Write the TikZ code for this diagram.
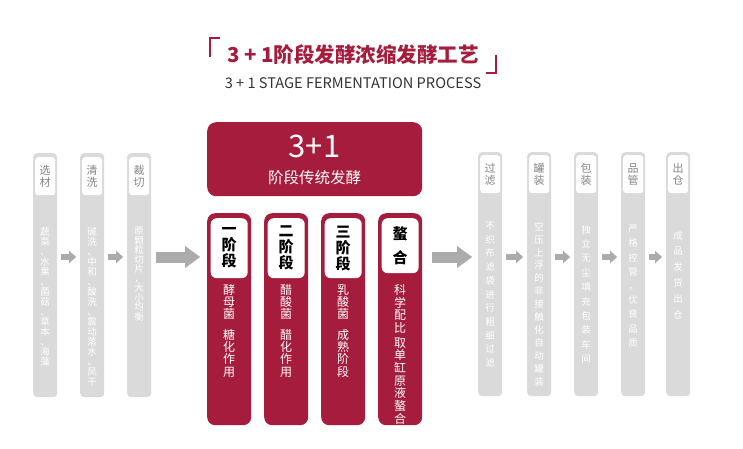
\documentclass[tikz,border=0pt]{standalone}
\usepackage{fontspec}
\setmainfont{Noto Sans CJK SC}
\usetikzlibrary{arrows.meta}

\definecolor{wine}{HTML}{A61C3C}
\definecolor{colgrey}{HTML}{DADADA}
\definecolor{arrowgrey}{HTML}{ABABAB}
\definecolor{labelgrey}{HTML}{858585}
\definecolor{subgrey}{HTML}{333333}

\begin{document}
\begin{tikzpicture}[
    x=1pt, y=-1pt,
    >=Stealth,
    stepcol/.style={fill=colgrey, rounded corners=4pt, inner sep=0pt,
        minimum width=24pt, minimum height=244pt, anchor=north west},
    collabel/.style={fill=white, rounded corners=3pt, inner sep=0pt,
        minimum width=20pt, minimum height=38pt, anchor=north, align=center,
        text=labelgrey, font=\fontsize{11}{12}\selectfont},
    coltext/.style={text=white, align=center, inner sep=0pt, anchor=north,
        font=\fontsize{9.5}{#1}\selectfont},
    stagebox/.style={fill=wine, rounded corners=8pt, inner sep=0pt,
        minimum width=44pt, minimum height=212pt, anchor=north west},
    stagelabel/.style={fill=white, rounded corners=6pt, inner sep=0pt,
        minimum width=37pt, minimum height=#1, anchor=north, align=center,
        font=\fontsize{15}{16}\selectfont\bfseries},
    stagetext/.style={text=white, align=center, inner sep=0pt, anchor=north,
        font=\fontsize{12}{#1}\selectfont},
    smallarrow/.style={draw=arrowgrey, line width=6.5pt,
        -{Triangle[length=7pt, width=12.5pt, line width=0.1pt]},
        shorten <=4pt, shorten >=4pt},
    bigarrow/.style={draw=arrowgrey, line width=11pt,
        -{Triangle[length=15pt, width=22pt, line width=0.1pt]}}
]
    \useasboundingbox (0,0) rectangle (743,448);

    % Title
    \node[text=wine, font=\fontsize{20.5}{24}\selectfont\bfseries] (title)
        at (353,55) {3 + 1阶段发酵浓缩发酵工艺};
    \node[text=subgrey, font=\fontsize{14.6}{16}\selectfont] (subtitle)
        at (353,83) {3 + 1 STAGE FERMENTATION PROCESS};
    \draw[wine, line width=1.2pt] (220,38) -- (210,38) -- (210,57);
    \draw[wine, line width=1.2pt] (486,73) -- (496,73) -- (496,55);

    % Left process columns
    \node[stepcol] (select) at (33,153) {};
    \node[stepcol] (wash) at (80,153) {};
    \node[stepcol] (cut) at (127,153) {};
    \node[collabel] at ([yshift=-4pt]select.north) {选\\材};
    \node[collabel] at ([yshift=-4pt]wash.north) {清\\洗};
    \node[collabel] at ([yshift=-4pt]cut.north) {裁\\切};
    \node[coltext=10] at (45,227)
        {蔬\\菜\\、\\水\\果\\、\\菌\\菇\\、\\草\\本\\、\\海\\藻};
    \node[coltext=10] at (92,227)
        {碱\\洗\\、\\中\\和\\、\\酸\\洗\\、\\震\\动\\落\\水\\、\\风\\干};
    \node[coltext=9.5] at (139,227)
        {原\\颗\\粒\\切\\片\\，\\大\\小\\均\\衡};

    % 3+1 stages
    \node[fill=wine, rounded corners=9pt, inner sep=0pt, minimum width=215pt,
        minimum height=74pt, anchor=north west] (trad) at (207,122) {};
    \node[text=white, font=\fontsize{31}{32}\selectfont] (tradnum)
        at (314.5,146) {3+1};
    \node[text=white, font=\fontsize{15.5}{17}\selectfont] (tradname)
        at (314.5,178) {阶段传统发酵};

    \node[stagebox] (stageone) at (207,213) {};
    \node[stagebox] (stagetwo) at (264,213) {};
    \node[stagebox] (stagethree) at (321,213) {};
    \node[stagebox] (chelate) at (378,213) {};
    \node[stagelabel=60pt] at ([yshift=-5pt]stageone.north) {一\\阶\\段};
    \node[stagelabel=60pt] at ([yshift=-5pt]stagetwo.north) {二\\阶\\段};
    \node[stagelabel=60pt] at ([yshift=-5pt]stagethree.north) {三\\阶\\段};
    \node[stagelabel=55pt] at ([yshift=-5pt]chelate.north) {螯\\[8pt]合};
    \node[stagetext=12.3] at (229,284) {酵\\母\\菌\\[8pt]糖\\化\\作\\用};
    \node[stagetext=12.3] at (286,284) {醋\\酸\\菌\\[8pt]醋\\化\\作\\用};
    \node[stagetext=12.3] at (343,284) {乳\\酸\\菌\\[8pt]成\\熟\\阶\\段};
    \node[stagetext=12.7] at (400,284)
        {科\\学\\配\\比\\[2pt]取\\单\\缸\\原\\液\\螯\\合};

    % Right process columns
    \node[stepcol] (filter) at (478,152) {};
    \node[stepcol] (can) at (527,152) {};
    \node[stepcol] (pack) at (574,152) {};
    \node[stepcol] (qc) at (621,152) {};
    \node[stepcol] (ship) at (666,152) {};
    \node[collabel] at ([yshift=-3pt]filter.north) {过\\滤};
    \node[collabel] at ([yshift=-3pt]can.north) {罐\\装};
    \node[collabel] at ([yshift=-3pt]pack.north) {包\\装};
    \node[collabel] at ([yshift=-3pt]qc.north) {品\\管};
    \node[collabel] at ([yshift=-3pt]ship.north) {出\\仓};
    \node[coltext=13.7] at (490,222)
        {不\\织\\布\\滤\\袋\\进\\行\\粗\\细\\过\\滤};
    \node[coltext=12.9] at (539,222)
        {空\\压\\上\\浮\\的\\非\\接\\触\\化\\自\\动\\罐\\装};
    \node[coltext=14.4] at (586,225)
        {独\\立\\无\\尘\\填\\充\\包\\装\\车\\间};
    \node[coltext=14.2] at (633,225)
        {严\\格\\控\\管\\，\\优\\良\\品\\质};
    \node[coltext=15.8] at (678,231)
        {成\\品\\发\\货\\出\\仓};

    % Arrows
    \coordinate (row) at (0,257);
    \draw[smallarrow] (select.east |- row) -- (wash.west |- row);
    \draw[smallarrow] (wash.east |- row) -- (cut.west |- row);
    \draw[bigarrow, shorten <=5pt, shorten >=7pt] (cut.east |- row) -- (stageone.west |- row);
    \draw[bigarrow, shorten <=10pt, shorten >=6pt] (chelate.east |- row) -- (filter.west |- row);
    \draw[smallarrow] (filter.east |- row) -- (can.west |- row);
    \draw[smallarrow] (can.east |- row) -- (pack.west |- row);
    \draw[smallarrow] (pack.east |- row) -- (qc.west |- row);
    \draw[smallarrow] (qc.east |- row) -- (ship.west |- row);

\end{tikzpicture}
\end{document}
